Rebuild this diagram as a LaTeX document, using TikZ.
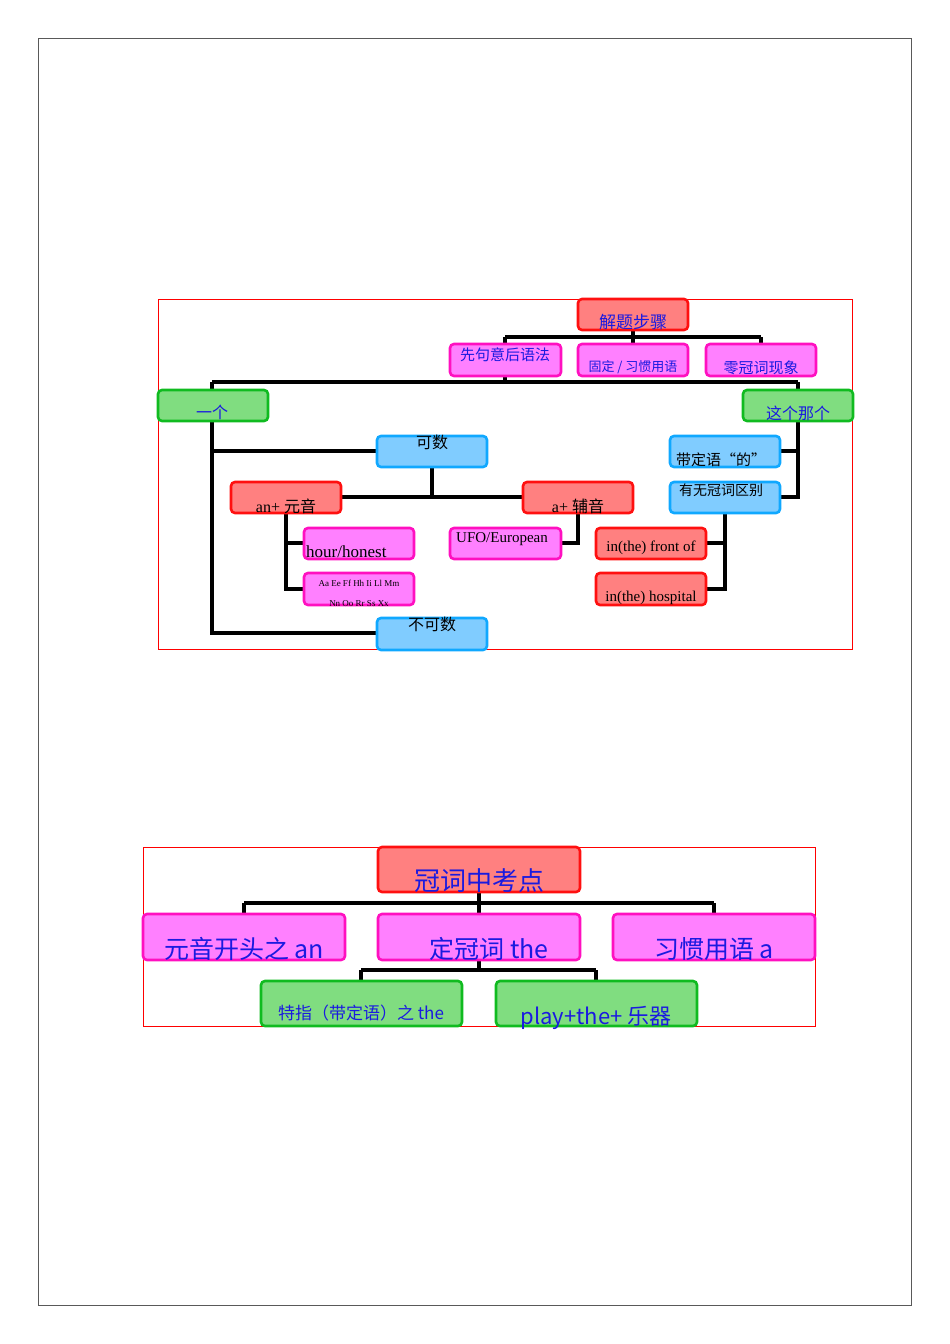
\documentclass[tikz,border=0pt]{standalone}
\usepackage{fontspec}
\setmainfont{Liberation Serif}
\newfontfamily\cjk{Noto Sans CJK SC}
\definecolor{rf}{HTML}{FF8080}\definecolor{rb}{HTML}{FF1010}
\definecolor{mf}{HTML}{FF80FF}\definecolor{mb}{HTML}{FF10C0}
\definecolor{gf}{HTML}{80DD80}\definecolor{gb}{HTML}{10BB20}
\definecolor{bf}{HTML}{80CCFF}\definecolor{bb}{HTML}{10A8FF}
\definecolor{tb}{HTML}{1A1AE0}
\tikzset{
 box/.style={rounded corners=4pt,line width=2.6pt},
 R/.style={box,fill=rf,draw=rb}, M/.style={box,fill=mf,draw=mb},
 G/.style={box,fill=gf,draw=gb}, B/.style={box,fill=bf,draw=bb},
 ln/.style={line width=4pt,black},
 lbl/.style={anchor=base,inner sep=0pt},
 frame/.style={draw=red,line width=0.8pt}
}
\newcommand{\fs}[1]{\fontsize{#1}{#1}\selectfont}
\begin{document}
\begin{tikzpicture}[x=1pt,y=-1pt]
\useasboundingbox (0,0) rectangle (950,1344);
\draw[gray!70!black,line width=0.8pt] (38,38) rectangle (911,1305);
% ===== top diagram =====
\draw[frame] (158,299) rectangle (852,649);
% connectors
\coordinate (t1) at (633,337); \coordinate (t2) at (505,337); \coordinate (t3) at (761,337);
\draw[ln] (633,330) -- (t1); \draw[ln] (t2) -- (t3);
\draw[ln] (t2) -- (505,344); \draw[ln] (t1) -- (633,344); \draw[ln] (t3) -- (761,344);
\draw[ln] (505,376) -- (505,382); \draw[ln] (212,382) -- (798,382);
\draw[ln] (212,382) -- (212,390); \draw[ln] (798,382) -- (798,390);
\draw[ln] (212,421) -- (212,633) -- (377,633); \draw[ln] (212,451) -- (377,451);
\draw[ln] (432,467) -- (432,497); \draw[ln] (341,497) -- (523,497);
\draw[ln] (286,513) -- (286,589) -- (304,589); \draw[ln] (286,543) -- (304,543);
\draw[ln] (578,513) -- (578,543) -- (561,543);
\draw[ln] (798,421) -- (798,497) -- (780,497); \draw[ln] (798,451) -- (780,451);
\draw[ln] (725,513) -- (725,589) -- (706,589); \draw[ln] (725,543) -- (706,543);
% boxes
\path[R] (578,299) rectangle (688,330); \path[M] (450,344) rectangle (561,376);
\path[M] (578,344) rectangle (688,376); \path[M] (706,344) rectangle (816,376);
\path[G] (158,390) rectangle (268,421); \path[G] (743,390) rectangle (853,421);
\path[B] (377,436) rectangle (487,467); \path[B] (670,436) rectangle (780,467);
\path[B] (670,482) rectangle (780,513);
\path[R] (231,482) rectangle (341,513); \path[R] (523,482) rectangle (633,513);
\path[M] (304,528) rectangle (414,559); \path[M] (450,528) rectangle (561,559);
\path[R] (596,528) rectangle (706,559);
\path[M] (304,573) rectangle (414,605); \path[R] (596,573) rectangle (706,605);
\path[B] (377,618) rectangle (487,650);
% labels
\node[lbl,text=tb] (a1) at (633,328) {\cjk\fs{17}解题步骤};
\node[lbl,text=tb] (a2) at (505,360) {\cjk\fs{15}先句意后语法};
\node[lbl,text=tb] (a3) at (633,371) {\cjk\fs{13}固定 / 习惯用语};
\node[lbl,text=tb] (a4) at (761,373) {\cjk\fs{15}零冠词现象};
\node[lbl,text=tb] (a5) at (212,418) {\cjk\fs{16}一个};
\node[lbl,text=tb] (a6) at (798,419) {\cjk\fs{16}这个那个};
\node[lbl] (a7) at (432,448) {\cjk\fs{16}可数};
\node[lbl] (a8) at (721,465) {\cjk\fs{15}带定语“的”};
\node[lbl] (a9) at (721,495) {\cjk\fs{14}有无冠词区别};
\node[lbl] (a10) at (286,512) {\fs{16}an+ \cjk 元音};
\node[lbl] (a11) at (578,512) {\fs{16}a+ \cjk 辅音};
\node[lbl,anchor=base west] (a12) at (306,557) {\fs{17}hour/honest};
\node[lbl] (a13) at (502,542) {\fs{15}UFO/European};
\node[lbl] (a14) at (651,551) {\fs{15}in(the) front of};
\node[lbl] (a15) at (359,586) {\fs{9}Aa Ee Ff Hh Ii Ll Mm};
\node[lbl] (a16) at (359,606) {\fs{9}Nn Oo Rr Ss Xx};
\node[lbl] (a17) at (651,601) {\fs{15}in(the) hospital};
\node[lbl] (a18) at (432,630) {\cjk\fs{16}不可数};
% ===== bottom diagram =====
\draw[frame] (143,847) rectangle (815,1026);
\draw[ln] (479,892) -- (479,903); \draw[ln] (244,903) -- (714,903);
\draw[ln] (244,903) -- (244,914); \draw[ln] (479,903) -- (479,914); \draw[ln] (714,903) -- (714,914);
\draw[ln] (479,960) -- (479,970); \draw[ln] (361,970) -- (596,970);
\draw[ln] (361,970) -- (361,981); \draw[ln] (596,970) -- (596,981);
\path[R] (378,847) rectangle (580,892);
\path[M] (143,914) rectangle (345,960); \path[M] (378,914) rectangle (580,960);
\path[M] (613,914) rectangle (815,960);
\path[G] (261,981) rectangle (462,1026); \path[G] (496,981) rectangle (697,1026);
\node[lbl,text=tb] (b1) at (479,890) {\cjk\fs{26}冠词中考点};
\node[lbl,text=tb] (b2) at (244,958) {\cjk\fs{25}元音开头之 an};
\node[lbl,text=tb] (b3) at (489,958) {\cjk\fs{25}定冠词 the};
\node[lbl,text=tb] (b4) at (714,958) {\cjk\fs{25}习惯用语 a};
\node[lbl,text=tb] (b5) at (361,1019) {\cjk\fs{17}特指（带定语）之 the};
\node[lbl,text=tb] (b6) at (596,1024) {\cjk\fs{22}play+the+ 乐器};
\end{tikzpicture}
\end{document}
